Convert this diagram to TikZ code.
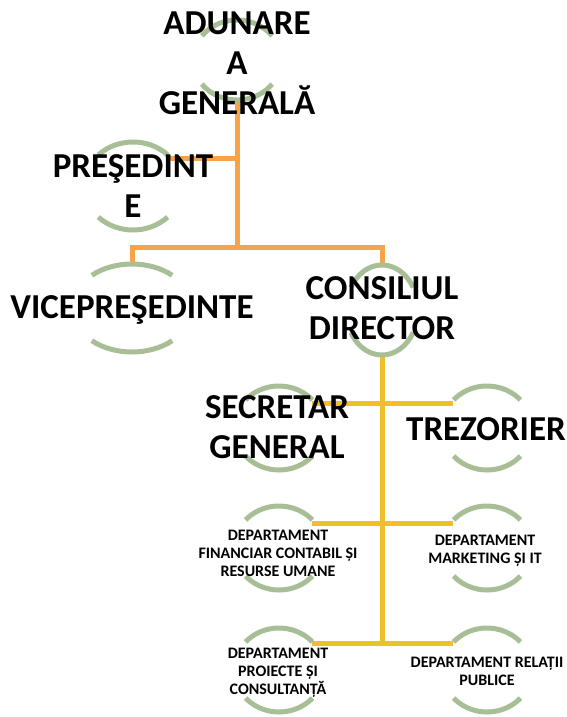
\documentclass[tikz,border=0pt]{standalone}
\usepackage{fontspec}
\setmainfont{Carlito}
\usepackage{xcolor}
\definecolor{ringgreen}{RGB}{168,190,150}
\definecolor{linkorange}{RGB}{247,164,72}
\definecolor{linkyellow}{RGB}{240,192,40}

\begin{document}
\begin{tikzpicture}[
    x=1pt, y=-1pt,
    big/.style={font=\fontsize{35}{40}\selectfont\bfseries, align=center, inner sep=0pt},
    small/.style={font=\fontsize{16}{18}\selectfont\bfseries, align=center, inner sep=0pt},
    ring/.style={draw=ringgreen, line width=5pt},
    olink/.style={draw=linkorange, line width=5pt},
    ylink/.style={draw=linkyellow, line width=5pt}
]
\useasboundingbox (0,0) rectangle (566,717);

% Ring centres
\coordinate (c-ag) at (237,60);
\coordinate (c-pr) at (133,186);
\coordinate (c-vi) at (132,308);
\coordinate (c-co) at (382,310);
\coordinate (c-se) at (279,428);
\coordinate (c-tr) at (487,428);
\coordinate (c-fi) at (279,548);
\coordinate (c-mk) at (487,548);
\coordinate (c-pj) at (279,670);
\coordinate (c-re) at (487,670);

% Connector ends
\coordinate (ag-bot) at (237,100);
\coordinate (bus) at (237,247);
\coordinate (pr-end) at (168,158);
\coordinate (vi-top) at (132,264);
\coordinate (co-top) at (382,265);
\coordinate (co-bot) at (382,355);
\coordinate (se-end) at (312,403);
\coordinate (tr-end) at (453,403);
\coordinate (fi-end) at (312,523);
\coordinate (mk-end) at (453,523);
\coordinate (pj-end) at (312,643);
\coordinate (re-end) at (453,643);

% Links
\draw[olink] (ag-bot) -- (bus);
\draw[olink] (pr-end) -- (ag-bot |- pr-end);
\draw[olink] (vi-top) -- (vi-top |- bus) -- (co-top |- bus) -- (co-top);
\draw[ylink] (co-bot) -- (co-bot |- pj-end);
\draw[ylink] (se-end) -- (tr-end);
\draw[ylink] (fi-end) -- (mk-end);
\draw[ylink] (pj-end) -- (re-end);

% Rings (top and bottom arcs)
\draw[ring] (c-ag) ++(37:44pt and 40pt) arc[start angle=37, end angle=143, x radius=44pt, y radius=40pt] (c-ag) ++(217:44pt and 40pt) arc[start angle=217, end angle=323, x radius=44pt, y radius=40pt];
\draw[ring] (c-pr) ++(45:49pt and 44pt) arc[start angle=45, end angle=135, x radius=49pt, y radius=44pt] (c-pr) ++(225:49pt and 44pt) arc[start angle=225, end angle=315, x radius=49pt, y radius=44pt];
\draw[ring] (c-vi) ++(48:60pt and 44pt) arc[start angle=48, end angle=132, x radius=60pt, y radius=44pt] (c-vi) ++(228:60pt and 44pt) arc[start angle=228, end angle=312, x radius=60pt, y radius=44pt];
\draw[ring] (c-co) ++(30:36pt and 45pt) arc[start angle=30, end angle=150, x radius=36pt, y radius=45pt] (c-co) ++(210:36pt and 45pt) arc[start angle=210, end angle=330, x radius=36pt, y radius=45pt];
\draw[ring] (c-se) ++(42:45pt and 42pt) arc[start angle=42, end angle=138, x radius=45pt, y radius=42pt] (c-se) ++(222:45pt and 42pt) arc[start angle=222, end angle=318, x radius=45pt, y radius=42pt];
\draw[ring] (c-tr) ++(42:45pt and 42pt) arc[start angle=42, end angle=138, x radius=45pt, y radius=42pt] (c-tr) ++(222:45pt and 42pt) arc[start angle=222, end angle=318, x radius=45pt, y radius=42pt];
\draw[ring] (c-fi) ++(42:45pt and 42pt) arc[start angle=42, end angle=138, x radius=45pt, y radius=42pt] (c-fi) ++(222:45pt and 42pt) arc[start angle=222, end angle=318, x radius=45pt, y radius=42pt];
\draw[ring] (c-mk) ++(42:45pt and 42pt) arc[start angle=42, end angle=138, x radius=45pt, y radius=42pt] (c-mk) ++(222:45pt and 42pt) arc[start angle=222, end angle=318, x radius=45pt, y radius=42pt];
\draw[ring] (c-pj) ++(42:45pt and 42pt) arc[start angle=42, end angle=138, x radius=45pt, y radius=42pt] (c-pj) ++(222:45pt and 42pt) arc[start angle=222, end angle=318, x radius=45pt, y radius=42pt];
\draw[ring] (c-re) ++(42:45pt and 42pt) arc[start angle=42, end angle=138, x radius=45pt, y radius=42pt] (c-re) ++(222:45pt and 42pt) arc[start angle=222, end angle=318, x radius=45pt, y radius=42pt];

% Labels
\node[big] (adunare) at (237,63) {ADUNARE\\A\\GENERALĂ};
\node[big] (presed) at (133,186) {PREŞEDINT\\E};
\node[big] (vice) at (132,310) {VICEPREŞEDINTE};
\node[big] (consiliu) at (382,308) {CONSILIUL\\DIRECTOR};
\node[big] (secretar) at (277,427) {SECRETAR\\GENERAL};
\node[big] (trezorier) at (486,429) {TREZORIER};
\node[small] (depfin) at (278,553) {DEPARTAMENT\\FINANCIAR CONTABIL ȘI\\RESURSE UMANE};
\node[small] (depmkt) at (485,551) {DEPARTAMENT\\MARKETING ȘI IT};
\node[small] (depproi) at (278,673) {DEPARTAMENT\\PROIECTE ȘI\\CONSULTANȚĂ};
\node[small] (deprel) at (487,671) {DEPARTAMENT RELAȚII\\PUBLICE};
\end{tikzpicture}
\end{document}
